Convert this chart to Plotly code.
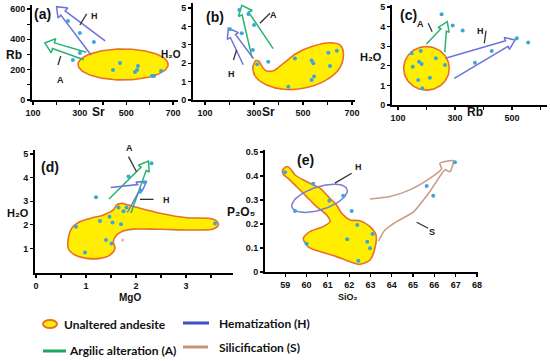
import numpy as np
import plotly.graph_objects as go

W, H = 550, 361

# ---------------- data ----------------
# (a) Sr vs Rb
a_sr = [443, 473, 537, 546, 550, 610, 619, 649, 271, 301, 301, 361, 250]
a_rb = [198, 244, 185, 198, 224, 158, 158, 191, 264, 310, 442, 382, 521]
a_field = dict(cx=486, cy=234, rx=193, ry=102)

# (b) Sr vs H2O
b_sr = [313, 358, 467, 535, 542, 603, 638, 610, 535, 545, 440, 240, 277, 300, 295, 250, 202]
b_h2o = [1.94, 2.08, 2.26, 2.14, 1.99, 2.57, 2.68, 1.85, 1.09, 1.27, 0.72, 4.89, 4.67, 4.08, 2.72, 3.62, 3.84]
b_field_x = [300, 295, 308, 352, 420, 501, 583, 644, 665, 651, 610, 542, 474, 420, 379, 349, 331, 322, 308, 300]
b_field_y = [1.99, 1.72, 1.23, 0.82, 0.58, 0.64, 1.0, 1.63, 2.45, 2.99, 3.11, 2.93, 2.54, 1.99, 1.59, 1.59, 1.85, 2.08, 2.14, 1.99]

# (c) Rb vs H2O
c_rb = [148, 180, 152, 174, 183, 233, 265, 212, 171, 185, 253, 292, 327, 370, 429, 517, 557]
c_h2o = [2.64, 2.76, 1.95, 2.21, 2.09, 2.38, 2.04, 1.39, 1.28, 0.85, 4.63, 4.05, 3.80, 2.16, 2.76, 3.40, 3.19]
c_field = dict(cx=200, cy=1.87, rx=80, ry=1.11)

# (d) MgO vs H2O
d_mgo = [0.80, 0.98, 1.28, 1.40, 1.47, 1.51, 1.53, 1.65, 1.70, 1.75, 1.81, 3.58, 1.20, 1.85, 2.31, 2.08, 2.17]
d_h2o = [1.92, 0.83, 2.16, 1.36, 2.34, 1.21, 2.10, 2.73, 2.02, 2.58, 2.73, 2.06, 3.17, 4.05, 4.61, 3.40, 3.80]
d_field_x = [0.647, 0.713, 0.847, 1.08, 1.347, 1.547, 1.613, 1.713, 1.847, 2.08, 2.48, 3.013, 3.48, 3.613,
             3.647, 3.547, 3.147, 2.48, 1.947, 1.747, 1.613, 1.547, 1.58, 1.48, 1.28, 1.013, 0.78, 0.647, 0.647]
d_field_y = [1.43, 1.85, 2.10, 2.27, 2.42, 2.63, 2.84, 2.91, 2.84, 2.70, 2.49, 2.30, 2.27, 2.16,
             1.99, 1.82, 1.78, 1.81, 1.82, 1.74, 1.57, 1.29, 1.00, 0.72, 0.58, 0.58, 0.72, 1.00, 1.43]

# (e) SiO2 vs P2O5
e_si = [58.99, 60.31, 61.07, 61.72, 59.46, 62.12, 62.38, 63.10, 61.91, 62.85, 62.98, 60.00, 62.43, 65.64, 65.95, 66.97]
e_p = [0.415, 0.367, 0.297, 0.317, 0.254, 0.254, 0.196, 0.158, 0.136, 0.126, 0.099, 0.118, 0.047, 0.358, 0.317, 0.457]
e_field_x = [58.88, 59.07, 59.22, 59.46, 59.85, 60.31, 60.63, 61.02, 61.41, 61.65, 62.04, 62.51, 62.98, 63.26,
             63.21, 62.98, 62.51, 62.04, 61.41, 60.63, 60.08, 59.85, 60.16, 60.78, 61.10, 60.94, 60.47, 60.00,
             59.54, 59.14, 58.91, 58.88]
e_field_y = [0.425, 0.439, 0.432, 0.404, 0.383, 0.363, 0.349, 0.314, 0.279, 0.244, 0.217, 0.213, 0.189, 0.154,
             0.099, 0.050, 0.032, 0.043, 0.064, 0.085, 0.105, 0.140, 0.168, 0.189, 0.210, 0.238, 0.272, 0.314,
             0.355, 0.390, 0.407, 0.425]
e_hem = dict(cx=60.61, cy=0.307)
e_sil_x = [62.98, 63.92, 64.85, 65.79, 66.34, 66.26, 66.89, 66.73, 66.50, 65.79, 65.01, 64.23, 63.68, 63.37]
e_sil_y = [0.304, 0.314, 0.342, 0.390, 0.429, 0.453, 0.4625, 0.418, 0.425, 0.335, 0.249, 0.210, 0.175, 0.129]

# arrows: (panel, tail, tip, tail width px, neck width px, head width px, kind)
arrows = [
    ('a', (323, 290), (151, 376), 8, 6, 15, 'A'),
    ('a', (379, 343), (201, 615), 20, 6, 14, 'H'),
    ('b', (335, 2.54), (250, 5.15), 23, 7, 15, 'A'),
    ('b', (277, 2.08), (195, 3.90), 12, 6, 13, 'H'),
    ('c', (232, 2.90), (273, 4.25), 20, 6, 12, 'A'),
    ('c', (282, 1.87), (511, 3.32), 22, 6, 13, 'H'),
    ('d', (1.68, 2.80), (2.25, 4.70), 26, 6, 13, 'A'),
    ('d', (1.66, 3.05), (2.21, 3.83), 30, 5, 11, 'H'),
]

# labels with leader lines: (panel, label xy, leader start, leader end, text)
labels = [
    ('a', (338, 597), (330, 567), (301, 494), 'H'),
    ('a', (194, 180), (207, 231), (219, 290), 'A'),
    ('b', (378, 4.98), (365, 4.71), (324, 4.17), 'A'),
    ('b', (209, 1.80), (216, 2.17), (229, 2.72), 'H'),
    ('c', (198, 4.50), (206, 4.17), (220, 3.74), 'A'),
    ('c', (409, 4.15), (409, 3.79), (403, 3.15), 'H'),
    ('d', (1.75, 5.26), (1.85, 4.89), (2.01, 4.25), 'A'),
    ('d', (2.50, 3.05), (2.08, 3.08), (2.35, 3.08), 'H'),
    ('e', (62.45, 0.437), (61.33, 0.370), (62.12, 0.411), 'H'),
    ('e', (66.12, 0.168), (65.17, 0.207), (65.71, 0.182), 'S'),
]

# ---------------- layout geometry (screen pixels) ----------------
PANELS = {
    'a': dict(ax='', xd=(32, 178), yd=(5, 100), xr=(95.7, 721.5), yr=(0, 626)),
    'b': dict(ax='2', xd=(193, 355), yd=(3, 100), xr=(51, 712), yr=(0, 5.27)),
    'c': dict(ax='3', xd=(392, 547), yd=(5, 105), xr=(79, 623), yr=(0, 5.1)),
    'd': dict(ax='4', xd=(35, 233), yd=(150, 273), xr=(-0.02, 3.94), yr=(-0.04, 5.17)),
    'e': dict(ax='5', xd=(265, 478), yd=(150, 272), xr=(58.05, 68.05), yr=(0, 0.508)),
}
for k, p in PANELS.items():
    p['sx'] = (p['xd'][1] - p['xd'][0]) / (p['xr'][1] - p['xr'][0])
    p['sy'] = (p['yd'][1] - p['yd'][0]) / (p['yr'][1] - p['yr'][0])


def fx(px):
    return min(1.0, max(0.0, px / W))


def fy(py):
    return min(1.0, max(0.0, 1 - py / H))


def data_to_paper(k, x, y):
    p = PANELS[k]
    px = p['xd'][0] + (x - p['xr'][0]) * p['sx']
    py = p['yd'][1] - (y - p['yr'][0]) * p['sy']
    return px / W, 1 - py / H


YELLOW = '#ffee00'
ORANGE = '#e8702a'
BLUE = '#6f72dc'
GREEN = '#25b56f'
BROWN = '#cc9c86'
PT = '#3aa6da'
COL = {'A': GREEN, 'H': BLUE}

fig = go.Figure()


def axref(k):
    a = PANELS[k]['ax']
    return 'x' + a, 'y' + a


def add(k, **kw):
    xa, ya = axref(k)
    fig.add_trace(go.Scatter(xaxis=xa, yaxis=ya, showlegend=False, hoverinfo='skip', cliponaxis=False, **kw))


def arrow_outline(k, tail, tip, wt, wn, wh, hl=9):
    p = PANELS[k]
    sx, sy = p['sx'], p['sy']
    t = np.array([0.0, 0.0])
    d = np.array([(tip[0] - tail[0]) * sx, (tip[1] - tail[1]) * sy])
    L = np.hypot(*d)
    u = d / L
    n = np.array([-u[1], u[0]])
    neck = d - u * hl
    pts = [t + n * wt / 2, neck + n * wn / 2, neck + n * wh / 2, d,
           neck - n * wh / 2, neck - n * wn / 2, t - n * wt / 2]
    xs = [tail[0] + q[0] / sx for q in pts]
    ys = [tail[1] + q[1] / sy for q in pts]
    return xs, ys


tt = np.linspace(0, 2 * np.pi, 120)

# fields
add('a', x=a_field['cx'] + a_field['rx'] * np.cos(tt), y=a_field['cy'] + a_field['ry'] * np.sin(tt),
    mode='lines', fill='toself', fillcolor=YELLOW, line=dict(color=ORANGE, width=1.6))
add('b', x=b_field_x, y=b_field_y, mode='lines', fill='toself', fillcolor=YELLOW,
    line=dict(color=ORANGE, width=1.6, shape='spline', smoothing=1.0))
add('c', x=c_field['cx'] + c_field['rx'] * np.cos(tt), y=c_field['cy'] + c_field['ry'] * np.sin(tt),
    mode='lines', fill='toself', fillcolor=YELLOW, line=dict(color=ORANGE, width=1.6))
add('d', x=d_field_x, y=d_field_y, mode='lines', fill='toself', fillcolor=YELLOW,
    line=dict(color=ORANGE, width=1.6, shape='spline', smoothing=0.8))
add('e', x=e_field_x, y=e_field_y, mode='lines', fill='toself', fillcolor=YELLOW,
    line=dict(color=ORANGE, width=1.6, shape='spline', smoothing=0.8))

# arrows
for k, tail, tip, wt, wn, wh, kind in arrows:
    xs, ys = arrow_outline(k, tail, tip, wt, wn, wh)
    add(k, x=xs, y=ys, mode='lines', line=dict(color=COL[kind], width=1.5))

# silicification arrow (e)
add('e', x=e_sil_x, y=e_sil_y, mode='lines', line=dict(color=BROWN, width=1.6, shape='spline', smoothing=0.6))

# hematization ellipse (e)
pe = PANELS['e']
th = np.deg2rad(18)
ea, eb = 29, 11.5
ex = ea * np.cos(tt) * np.cos(th) - eb * np.sin(tt) * np.sin(th)
ey = ea * np.cos(tt) * np.sin(th) + eb * np.sin(tt) * np.cos(th)
add('e', x=e_hem['cx'] + ex / pe['sx'], y=e_hem['cy'] + ey / pe['sy'], mode='lines',
    line=dict(color='#7a7ad8', width=1.5))

# leader lines
for k, lab, s, e, txt in labels:
    add(k, x=[s[0], e[0]], y=[s[1], e[1]], mode='lines', line=dict(color='#333333', width=1.3))

# points
for k, xs, ys in [('a', a_sr, a_rb), ('b', b_sr, b_h2o), ('c', c_rb, c_h2o), ('d', d_mgo, d_h2o), ('e', e_si, e_p)]:
    add(k, x=xs, y=ys, mode='markers', marker=dict(color=PT, size=4))
add('d', x=[1.73], y=[1.36], mode='markers', marker=dict(color='#f4a0c0', size=3))

annotations = []
for k, lab, s, e, txt in labels:
    ppx, ppy = data_to_paper(k, lab[0], lab[1])
    annotations.append(dict(x=ppx, y=ppy, xref='paper', yref='paper', text=txt, showarrow=False,
                            font=dict(family='Liberation Sans', size=9, color='#222', weight='bold')))


def pann(px, py, text, size, weight='bold', family='Liberation Sans', xanchor='center'):
    annotations.append(dict(x=fx(px), y=fy(py), xref='paper', yref='paper', text=text, showarrow=False,
                            xanchor=xanchor, yanchor='middle',
                            font=dict(family=family, size=size, color='#111', weight=weight)))


# panel letters
pann(42, 14, '(a)', 14)
pann(215, 17, '(b)', 14)
pann(408, 15, '(c)', 14)
pann(50, 167, '(d)', 14)
pann(305, 160, '(e)', 14)

# axis titles
pann(14, 55, 'Rb', 12)
pann(98, 112, 'Sr', 12)
pann(171, 54, 'H₂O', 10)
pann(268, 112, 'Sr', 12)
pann(371, 57, 'H₂O', 11)
pann(475, 112, 'Rb', 12)
pann(18, 213, 'H₂O', 11)
pann(130, 297, 'MgO', 10)
pann(241, 212, 'P₂O₅', 12)
pann(348, 297, 'SiO₂', 9)

# legend
LF = 'Lato'
pann(62, 324, 'Unaltered andesite', 12, family=LF, xanchor='left')
pann(217, 323, 'Hematization (H)', 12, family=LF, xanchor='left')
pann(67, 350, 'Argilic alteration (A)', 12, family=LF, xanchor='left')
pann(217, 347, 'Silicification (S)', 12, family=LF, xanchor='left')

shapes = [
    dict(type='circle', xref='paper', yref='paper', x0=fx(43), x1=fx(57), y0=fy(328), y1=fy(320),
         fillcolor=YELLOW, line=dict(color=ORANGE, width=2)),
    dict(type='line', xref='paper', yref='paper', x0=fx(183), x1=fx(209), y0=fy(323), y1=fy(323),
         line=dict(color='#3e4fc6', width=3)),
    dict(type='line', xref='paper', yref='paper', x0=fx(43), x1=fx(66), y0=fy(351), y1=fy(351),
         line=dict(color='#1aa85c', width=3)),
    dict(type='line', xref='paper', yref='paper', x0=fx(183), x1=fx(208), y0=fy(347), y1=fy(347),
         line=dict(color='#c9937a', width=3)),
]

TF = dict(family='Liberation Sans', size=9, color='#111', weight='bold')


def axis(k, which, tickvals, ticktext):
    p = PANELS[k]
    if which == 'x':
        dom = (fx(p['xd'][0]), fx(p['xd'][1]))
        rng = p['xr']
        anchor = 'y' + p['ax']
    else:
        dom = (fy(p['yd'][1]), fy(p['yd'][0]))
        rng = p['yr']
        anchor = 'x' + p['ax']
    return dict(domain=dom, range=list(rng), anchor=anchor, showline=True, linecolor='black', linewidth=2,
                showgrid=False, zeroline=False, ticks='outside', ticklen=3, tickwidth=1.2, tickcolor='black',
                tickvals=tickvals, ticktext=ticktext, tickfont=TF, fixedrange=True, automargin=False)


def lab(vals, shown):
    return [(('%g' % v) if v in shown else '') for v in vals]


xa_vals = [100, 200, 300, 400, 500, 600, 700]
layout = dict(
    width=W, height=H, margin=dict(l=0, r=0, t=0, b=0), paper_bgcolor='white', plot_bgcolor='white',
    annotations=annotations, shapes=shapes, showlegend=False, hovermode=False,
    xaxis=axis('a', 'x', xa_vals, lab(xa_vals, [100, 300, 500, 700])),
    yaxis=axis('a', 'y', [0, 100, 200, 300, 400, 500, 600], lab([0, 100, 200, 300, 400, 500, 600], [0, 200, 400, 600])),
    xaxis2=axis('b', 'x', xa_vals, lab(xa_vals, [100, 300, 500, 700])),
    yaxis2=axis('b', 'y', [0, 1, 2, 3, 4, 5], ['0', '1', '2', '3', '4', '5']),
    xaxis3=axis('c', 'x', [100, 200, 300, 400, 500, 600], lab([100, 200, 300, 400, 500, 600], [100, 300, 500])),
    yaxis3=axis('c', 'y', [0, 1, 2, 3, 4, 5], ['0', '1', '2', '3', '4', '5']),
    xaxis4=axis('d', 'x', [0, 0.5, 1, 1.5, 2, 2.5, 3, 3.5], ['0', '', '1', '', '2', '', '3', '']),
    yaxis4=axis('d', 'y', [1, 2, 3, 4, 5], ['1', '2', '3', '4', '5']),
    xaxis5=axis('e', 'x', list(range(58, 69)), [str(v) for v in range(58, 69)]),
    yaxis5=axis('e', 'y', [0, 0.1, 0.2, 0.3, 0.4, 0.5], ['0', '0.1', '0.2', '0.3', '0.4', '0.5']),
)
fig.update_layout(**layout)
fig.write_html('out.html', config={'displayModeBar': False, 'staticPlot': True},
               post_script="document.body.style.margin='0';document.body.style.overflow='hidden';")
